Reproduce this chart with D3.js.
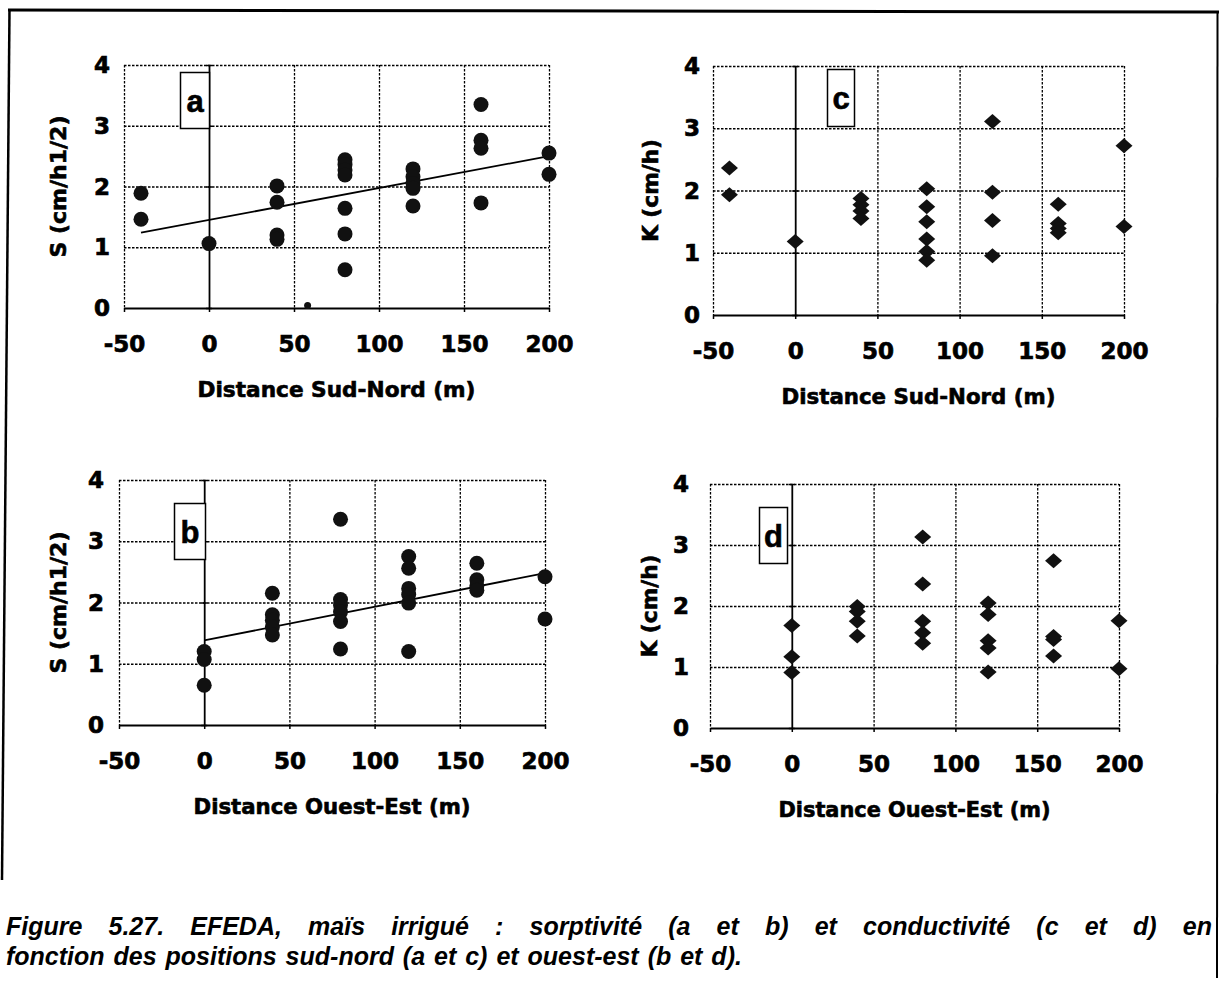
<!DOCTYPE html>
<html><head><meta charset="utf-8">
<script src="https://cdn.jsdelivr.net/npm/d3@7"></script>
<style>
html,body{margin:0;padding:0;background:#fff;}
svg{display:block;}
</style></head>
<body>
<svg id="chart" width="1221" height="981"></svg>
<script>
// ---------------- data ----------------
const xTicks = [-50, 0, 50, 100, 150, 200];
const yTicks = [0, 1, 2, 3, 4];
const xDomain = [-50, 200];
const yDomain = [0, 4];

// (a) sorptivity vs South-North distance
const sorptSN = [[-40,1.89],[-40,1.46],[0,1.06],[40,2.01],[40,1.74],[40,1.20],[40,1.13],
  [80,2.44],[80,2.36],[80,2.27],[80,2.19],[80,1.64],[80,1.22],[80,0.63],
  [120,2.29],[120,2.16],[120,2.05],[120,1.97],[120,1.68],
  [160,3.35],[160,2.76],[160,2.63],[160,1.73],[200,2.55],[200,2.20]];
const strayA = [[58,0.04]];
const trendSN = [[-40,1.24],[200,2.50]];

// (b) sorptivity vs West-East distance
const sorptOE = [[0,1.20],[0,1.07],[0,0.65],[40,2.15],[40,1.80],[40,1.71],[40,1.60],[40,1.47],
  [80,3.36],[80,2.05],[80,1.96],[80,1.85],[80,1.69],[80,1.24],
  [120,2.75],[120,2.56],[120,2.23],[120,2.13],[120,1.99],[120,1.20],
  [160,2.64],[160,2.37],[160,2.27],[160,2.20],[200,2.42],[200,1.73]];
const trendOE = [[0,1.38],[200,2.48]];

// (c) conductivity vs South-North distance
const condSN = [[-40,2.36],[-40,1.93],[0,1.18],[40,1.87],[40,1.77],[40,1.67],[40,1.55],
  [80,2.03],[80,1.74],[80,1.50],[80,1.22],[80,1.02],[80,0.88],
  [120,3.11],[120,1.97],[120,1.52],[120,0.95],
  [160,1.78],[160,1.47],[160,1.39],[160,1.32],[200,2.72],[200,1.42]];

// (d) conductivity vs West-East distance
const condOE = [[0,1.68],[0,1.17],[0,0.91],[40,1.99],[40,1.91],[40,1.75],[40,1.51],
  [80,3.13],[80,2.36],[80,1.75],[80,1.56],[80,1.39],
  [120,2.05],[120,1.86],[120,1.43],[120,1.31],[120,0.92],
  [160,2.74],[160,1.50],[160,1.45],[160,1.18],[200,1.76],[200,0.97]];

const xTitleSN = "Distance Sud-Nord (m)";
const xTitleOE = "Distance Ouest-Est (m)";
const yTitleS = "S (cm/h1/2)";
const yTitleK = "K (cm/h)";
const captionLine1 = "Figure 5.27. EFEDA, maïs irrigué : sorptivité (a et b) et conductivité (c et d) en";
const captionLine2 = "fonction des positions sud-nord (a et c) et ouest-est (b et d).";

// ---------------- layout ----------------
const panels = [
  {id:"a", L:124, R:549, T:65, B:308, pts:sorptSN, stray:strayA, trend:trendSN, marker:"circle",
   xTitle:xTitleSN, yTitle:yTitleS, yLabRight:110, yTitleX:66, yTitleLen:142, xTitleLen:278,
   box:{x:180, y:72, w:29, h:56}},
  {id:"c", L:713, R:1124, T:66, B:315, pts:condSN, stray:[], trend:null, marker:"diamond",
   xTitle:xTitleSN, yTitle:yTitleK, yLabRight:700, yTitleX:658, yTitleLen:103, xTitleLen:274,
   box:{x:827, y:69, w:27, h:57}},
  {id:"b", L:119, R:545, T:480, B:725, pts:sorptOE, stray:[], trend:trendOE, marker:"circle",
   xTitle:xTitleOE, yTitle:yTitleS, yLabRight:104, yTitleX:66, yTitleLen:142, xTitleLen:277,
   box:{x:174, y:503, w:31, h:56}},
  {id:"d", L:710, R:1119, T:484, B:728, pts:condOE, stray:[], trend:null, marker:"diamond",
   xTitle:xTitleOE, yTitle:yTitleK, yLabRight:689, yTitleX:657, yTitleLen:103, xTitleLen:272,
   box:{x:759, y:507, w:28, h:56}}
];

const svg = d3.select("#chart");
const TICKFONT = "'DejaVu Sans', sans-serif";
const ink = "#111";

// outer frame
const frame = svg.append("g").attr("fill","none").attr("stroke","#000");
frame.append("line").attr("x1",8).attr("y1",10).attr("x2",1219).attr("y2",12).attr("stroke-width",3);
frame.append("line").attr("x1",9.5).attr("y1",9).attr("x2",2).attr("y2",880).attr("stroke-width",2.5);
frame.append("line").attr("x1",1217.5).attr("y1",11).attr("x2",1217).attr("y2",978).attr("stroke-width",2);

function heavy(sel, sw) {
  return sel.attr("stroke","#000").attr("stroke-width", sw).attr("paint-order","stroke");
}

panels.forEach(p => {
  const w = p.R - p.L, h = p.B - p.T;
  const x = d3.scaleLinear().domain(xDomain).range([0, w]);
  const y = d3.scaleLinear().domain(yDomain).range([h, 0]);
  const g = svg.append("g").attr("transform", `translate(${p.L},${p.T})`);

  // dotted horizontal grid (1..4) via axis
  const gy = g.append("g").call(d3.axisLeft(y).tickValues(yTicks.filter(v => v > 0)).tickSize(-w).tickFormat(""));
  gy.select(".domain").remove();
  gy.selectAll(".tick line").attr("stroke","#000").attr("stroke-width",1.3).attr("stroke-dasharray","2.5,1.5");

  // dotted vertical grid (except 0, drawn solid)
  const gx = g.append("g").call(d3.axisBottom(x).tickValues(xTicks.filter(v => v !== 0)).tickSize(h).tickFormat(""));
  gx.select(".domain").remove();
  gx.selectAll(".tick line").attr("stroke","#000").attr("stroke-width",1.3).attr("stroke-dasharray","2.5,1.5");

  // x axis (solid at y=0) with tick labels
  const ax = g.append("g").attr("transform", `translate(0,${h})`)
    .call(d3.axisBottom(x).tickValues(xTicks).tickSize(4).tickSizeOuter(0).tickFormat(d => String(d)));
  ax.select(".domain").attr("stroke","#000").attr("stroke-width",2.2);
  ax.selectAll(".tick line").attr("stroke","#000").attr("stroke-width",1.5);
  heavy(ax.selectAll(".tick text").attr("y",44).attr("dy",null)
    .attr("font-family",TICKFONT).attr("font-weight","bold").attr("font-size",23).attr("fill","#000"), 0.7);

  // y axis line at x=0
  const ay = g.append("g").attr("transform", `translate(${x(0)},0)`)
    .call(d3.axisLeft(y).tickValues(yTicks).tickSize(3).tickSizeOuter(0).tickFormat(""));
  ay.select(".domain").attr("stroke","#000").attr("stroke-width",1.8);
  ay.selectAll(".tick line").attr("stroke","#000").attr("stroke-width",1.5).attr("x2",3).attr("x1",-3);

  // y tick labels on the left
  heavy(g.append("g").selectAll("text").data(yTicks).join("text")
    .attr("x", p.yLabRight - p.L).attr("y", d => y(d) + 8)
    .attr("text-anchor","end")
    .attr("font-family",TICKFONT).attr("font-weight","bold").attr("font-size",23)
    .text(d => String(d)), 0.7);

  // trend line
  if (p.trend) {
    g.append("path").datum(p.trend)
      .attr("d", d3.line().x(d => x(d[0])).y(d => y(d[1])))
      .attr("fill","none").attr("stroke","#000").attr("stroke-width",1.8);
  }

  // markers
  if (p.marker === "circle") {
    g.append("g").selectAll("circle").data(p.pts).join("circle")
      .attr("cx", d => x(d[0])).attr("cy", d => y(d[1])).attr("r", 7.5).attr("fill", ink);
    g.append("g").selectAll("circle").data(p.stray).join("circle")
      .attr("cx", d => x(d[0])).attr("cy", d => y(d[1])).attr("r", 3.5).attr("fill", ink);
  } else {
    g.append("g").selectAll("path").data(p.pts).join("path")
      .attr("transform", d => `translate(${x(d[0])},${y(d[1])})`)
      .attr("d","M0,-7.5L8.5,0L0,7.5L-8.5,0Z").attr("fill", ink);
  }

  // panel label box
  svg.append("rect").attr("x",p.box.x+0.5).attr("y",p.box.y+0.5).attr("width",p.box.w).attr("height",p.box.h)
    .attr("fill","#fff").attr("stroke","#000").attr("stroke-width",1.5);
  heavy(svg.append("text").attr("x",p.box.x + p.box.w/2 + 0.5).attr("y", p.box.y + 40)
    .attr("text-anchor","middle").attr("font-family","'Liberation Sans', Arial, sans-serif")
    .attr("font-weight","bold").attr("font-size",31).text(p.id), 0.6);

  // x title
  heavy(svg.append("text").attr("x", (p.L + p.R)/2).attr("y", p.B + 89)
    .attr("text-anchor","middle").attr("font-family",TICKFONT).attr("font-weight","bold").attr("font-size",20.5)
    .attr("textLength", p.xTitleLen).attr("lengthAdjust","spacingAndGlyphs")
    .text(p.xTitle), 0.6);

  // y title (rotated)
  heavy(svg.append("text").attr("transform", `translate(${p.yTitleX},${(p.T + p.B)/2}) rotate(-90)`)
    .attr("text-anchor","middle").attr("font-family",TICKFONT).attr("font-weight","bold").attr("font-size",20.5)
    .attr("textLength", p.yTitleLen).attr("lengthAdjust","spacingAndGlyphs")
    .text(p.yTitle), 0.6);
});

// caption: line 1 justified, line 2 natural
const capFont = "'Liberation Sans', Arial, sans-serif";
let capSize = 25;
const capG = svg.append("g").attr("font-family",capFont).attr("font-weight","bold")
  .attr("font-style","italic").attr("fill","#000");
const words = captionLine1.split(" ");
const x0 = 6, x1 = 1212;
let tmp, widths, gap;
for (;;) {
  capG.attr("font-size", capSize);
  capG.selectAll("text").remove();
  tmp = words.map(wd => capG.append("text").attr("y",935).text(wd));
  widths = tmp.map(t => t.node().getComputedTextLength());
  gap = (x1 - x0 - d3.sum(widths)) / (words.length - 1);
  if (gap >= 5 || capSize <= 18) break;
  capSize -= 0.5;
}
let cx = x0;
tmp.forEach((t,i) => { t.attr("x", cx); cx += widths[i] + gap; });
capG.append("text").attr("x",6).attr("y",965).attr("word-spacing",2).text(captionLine2);
</script>
</body></html>
